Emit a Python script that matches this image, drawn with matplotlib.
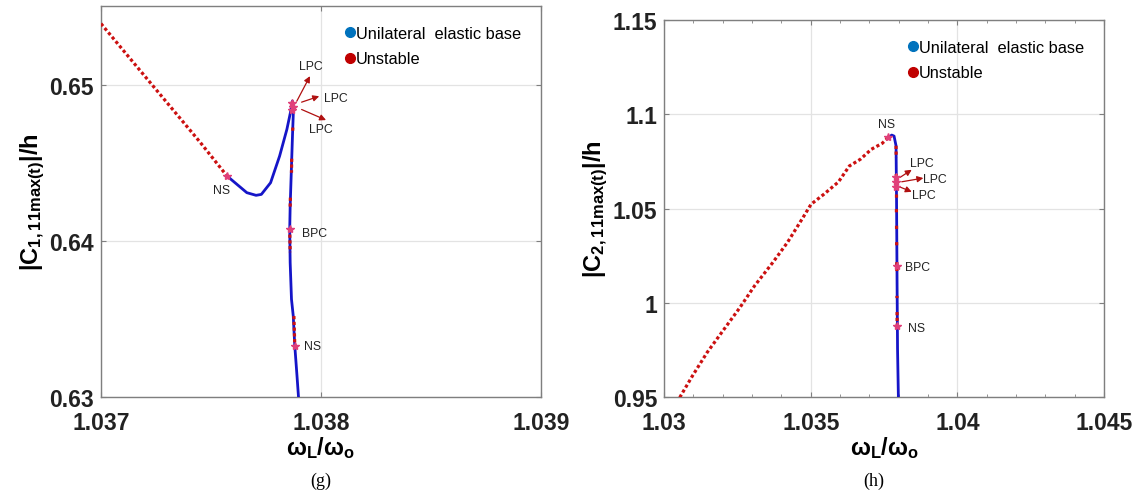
import numpy as np
import matplotlib
matplotlib.use("Agg")
import matplotlib.pyplot as plt
from matplotlib.lines import Line2D

plt.rcParams['font.family'] = ['Liberation Sans', 'DejaVu Sans']
plt.rcParams['mathtext.fontset'] = 'custom'
plt.rcParams['mathtext.bf'] = 'Liberation Sans:bold'
plt.rcParams['mathtext.rm'] = 'Liberation Sans'

# ---- panel (g) ----
g_unst_x = [1.03700, 1.03715, 1.03730, 1.03745, 1.037573]
g_unst_y = [0.65397, 0.65143, 0.64890, 0.64637, 0.64419]
g_x = [1.037573, 1.037663, 1.037705, 1.037729, 1.037771, 1.037812, 1.037845, 1.037861,
       1.037870, 1.037875, 1.037871, 1.037866, 1.037860, 1.037858, 1.037860, 1.037866,
       1.037874, 1.037881, 1.037891, 1.037898]
g_y = [0.64419, 0.64312, 0.64295, 0.64301, 0.64376, 0.64547, 0.64718, 0.64825,
       0.64900, 0.64846, 0.64697, 0.64483, 0.64226, 0.64077, 0.63863, 0.63628,
       0.63521, 0.63329, 0.63137, 0.62998]
# unstable pieces on the steep branch
g_seg = [([1.037870, 1.037874], [0.64900, 0.64840]),
         ([1.037872, 1.037871], [0.64730, 0.64700]),
         ([1.037867, 1.037866], [0.64530, 0.64440]),
         ([1.037861, 1.037860], [0.64280, 0.64220]),
         ([1.037858, 1.037860], [0.64080, 0.63930]),
         ([1.037877, 1.037881], [0.63520, 0.63329])]
g_star_x = [1.037573, 1.037870, 1.037872, 1.037868, 1.037858, 1.037881]
g_star_y = [0.64419, 0.64890, 0.64865, 0.64840, 0.64077, 0.63329]

# ---- panel (h) ----
h_unst_x = [1.030535, 1.030970, 1.031468, 1.031965, 1.032587, 1.033085, 1.033706, 1.034204,
            1.034701, 1.035012, 1.035448, 1.035945, 1.036318, 1.036692, 1.037065, 1.037438,
            1.037647]
h_unst_y = [0.94982, 0.96131, 0.97367, 0.98428, 0.99753, 1.00901, 1.02138, 1.03198,
            1.04435, 1.05230, 1.05760, 1.06413, 1.07261, 1.07615, 1.08145, 1.08463,
            1.08777]
h_x = [1.037647, 1.037763, 1.037841, 1.037909, 1.037926, 1.037943, 1.037960, 1.037990]
h_y = [1.08777, 1.08899, 1.08846, 1.08332, 1.05504, 1.01260, 0.97546, 0.94900]
h_seg = [([1.037909, 1.037913], [1.08332, 1.07716]),
         ([1.037915, 1.037918], [1.06830, 1.06140]),
         ([1.037919, 1.037919], [1.05800, 1.05560]),
         ([1.037922, 1.037923], [1.04973, 1.04710]),
         ([1.037926, 1.037927], [1.04090, 1.03820]),
         ([1.037930, 1.037931], [1.03220, 1.03030]),
         ([1.037935, 1.037937], [1.02160, 1.01630]),
         ([1.037941, 1.037942], [1.00370, 1.00250]),
         ([1.037944, 1.037947], [0.99510, 0.98610])]
h_star_x = [1.037647, 1.037916, 1.037917, 1.037918, 1.037936, 1.037946]
h_star_y = [1.08777, 1.06670, 1.06410, 1.06140, 1.01970, 0.98780]

blue = '#1515c8'
red = '#cc1010'
grey = '#7f7f7f'
fig = plt.figure(figsize=(11.41, 5.02), dpi=100)
ax1 = fig.add_axes([0.0885, 0.207, 0.3856, 0.779])
ax2 = fig.add_axes([0.582, 0.207, 0.3856, 0.751])


def draw(ax, ux, uy, bx, by, segs, sx, sy):
    ax.plot(bx, by, color=blue, lw=2.0, zorder=3)
    ax.plot(ux, uy, color=red, lw=2.3, ls=(0, (1, 0.8)), zorder=4)
    for xs, ys in segs:
        ax.plot(xs, ys, color=red, lw=2.3, ls=(0, (1, 0.8)), zorder=4)
    ax.plot(sx, sy, ls='none', marker='*', ms=6, color='#e0407a', zorder=5)
    ax.grid(True, color='#e3e3e3', lw=0.9)
    ax.set_axisbelow(True)
    for s in ax.spines.values():
        s.set_color(grey)
        s.set_linewidth(1.0)
    ax.tick_params(direction='in', which='both', top=True, right=True, color=grey,
                   labelsize=16.5)
    ax.tick_params(axis='x', pad=10)
    ax.tick_params(axis='y', pad=5)
    for lab in ax.get_xticklabels() + ax.get_yticklabels():
        lab.set_fontweight('bold')
        lab.set_color('#222222')
    hd = [Line2D([], [], ls='none', marker='o', ms=7, color='#0072BD'),
          Line2D([], [], ls='none', marker='o', ms=7, color='#C00000')]
    ax.legend(hd, ['Unilateral  elastic base', 'Unstable'], loc='upper right',
              frameon=False, fontsize=11.8, handlelength=0.5, handletextpad=0.15,
              borderaxespad=0.8, labelspacing=0.65)
    ax.set_xlabel(r'$\mathbf{\omega_L/\omega_o}$', fontsize=17, labelpad=0)


def arrow(ax, tail, head):
    ax.annotate('', xy=head, xytext=tail,
                arrowprops=dict(arrowstyle='-|>', color='#b01010', lw=0.9,
                                mutation_scale=9, shrinkA=0, shrinkB=0))


def lab(ax, x, y, s):
    ax.text(x, y, s, fontsize=8.8, ha='center', va='center', color='#222222')


# panel g
ax1.set_xlim(1.037, 1.039)
ax1.set_ylim(0.63, 0.6551)
ax1.set_xticks([1.037, 1.038, 1.039])
ax1.set_xticklabels(['1.037', '1.038', '1.039'])
ax1.set_yticks([0.63, 0.64, 0.65])
ax1.set_yticklabels(['0.63', '0.64', '0.65'])
draw(ax1, g_unst_x, g_unst_y, g_x, g_y, g_seg, g_star_x, g_star_y)
ax1.set_ylabel(r'$\mathbf{|C_{1,11max(t)}|/h}$', fontsize=17, labelpad=2)
arrow(ax1, (1.037890, 0.64899), (1.037950, 0.65060))
arrow(ax1, (1.037912, 0.64893), (1.037992, 0.64931))
arrow(ax1, (1.037912, 0.64846), (1.038023, 0.64778))
lab(ax1, 1.037955, 0.65128, 'LPC')
lab(ax1, 1.038068, 0.64917, 'LPC')
lab(ax1, 1.037999, 0.64722, 'LPC')
lab(ax1, 1.037549, 0.64329, 'NS')
lab(ax1, 1.037970, 0.64056, 'BPC')
lab(ax1, 1.037962, 0.63329, 'NS')

# panel h
ax2.set_xlim(1.03, 1.045)
ax2.set_ylim(0.95, 1.15)
ax2.set_xticks([1.03, 1.035, 1.04, 1.045])
ax2.set_xticklabels(['1.03', '1.035', '1.04', '1.045'])
ax2.set_xticks(np.arange(1.031, 1.045, 0.001), minor=True)
ax2.set_yticks([0.95, 1.0, 1.05, 1.1, 1.15])
ax2.set_yticklabels(['0.95', '1', '1.05', '1.1', '1.15'])
draw(ax2, h_unst_x, h_unst_y, h_x, h_y, h_seg, h_star_x, h_star_y)
ax2.grid(False, which='minor')
ax2.set_ylabel(r'$\mathbf{|C_{2,11max(t)}|/h}$', fontsize=17, labelpad=2)
arrow(ax2, (1.038045, 1.06655), (1.038444, 1.07059))
arrow(ax2, (1.038103, 1.06422), (1.038840, 1.06618))
arrow(ax2, (1.037989, 1.06178), (1.038444, 1.05891))
lab(ax2, 1.038786, 1.07414, 'LPC')
lab(ax2, 1.039239, 1.06565, 'LPC')
lab(ax2, 1.038864, 1.05716, 'LPC')
lab(ax2, 1.037591, 1.09483, 'NS')
lab(ax2, 1.038636, 1.01881, 'BPC')
lab(ax2, 1.038615, 0.98645, 'NS')

fig.text(321 / 1141, 1 - 481 / 502, '(g)', fontsize=13, family='Liberation Serif',
         ha='center', va='center')
fig.text(874 / 1141, 1 - 481 / 502, '(h)', fontsize=13, family='Liberation Serif',
         ha='center', va='center')

fig.savefig('out.png', dpi=100)
